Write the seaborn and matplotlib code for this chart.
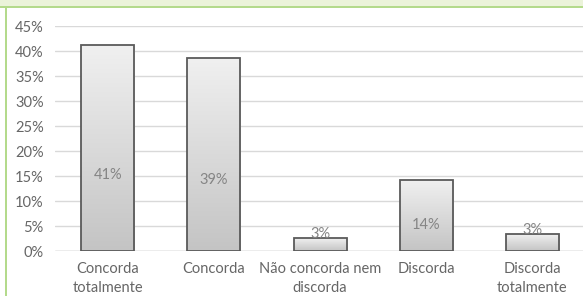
import numpy as np
import pandas as pd
import seaborn as sns
import matplotlib.pyplot as plt
from matplotlib.patches import Rectangle
from matplotlib.colors import LinearSegmentedColormap

# Chart data
categories = ["Concorda\ntotalmente", "Concorda", "Não concorda nem\ndiscorda", "Discorda", "Discorda\ntotalmente"]
values = [41.2, 38.6, 2.6, 14.2, 3.4]
labels = ["41%", "39%", "3%", "14%", "3%"]
yticks = [0, 5, 10, 15, 20, 25, 30, 35, 40, 45]

df = pd.DataFrame({"categoria": categories, "valor": values})

sns.set_theme(style="white")
plt.rcParams["font.family"] = ["Lato", "DejaVu Sans"]

fig = plt.figure(figsize=(5.83, 2.96), dpi=100)
ax = fig.add_axes([0.094, 0.152, 0.91, 0.76])

sns.barplot(data=df, x="categoria", y="valor", width=0.5, color="#d9d9d9",
            edgecolor="#5a5a5a", linewidth=1.3, ax=ax, zorder=3)

# gradient fill inside each bar
grad = np.linspace(0, 1, 256).reshape(-1, 1)
cmap = LinearSegmentedColormap.from_list("g", ["#f0f0f0", "#c4c4c4"])
for p in ax.patches:
    x0, y0 = p.get_x(), p.get_y()
    w, h = p.get_width(), p.get_height()
    p.set_facecolor("none")
    im = ax.imshow(grad, cmap=cmap, extent=[x0, x0 + w, y0, y0 + h],
                   aspect="auto", origin="upper", zorder=2)
    im.set_clip_path(p)

# value labels
for i, (v, t) in enumerate(zip(values, labels)):
    ypos = v * 0.37 if v > 10 else v + 0.9
    ax.text(i, ypos, t, ha="center", va="center", fontsize=10.5, color="#858585", zorder=4)

ax.set_xlim(-0.5, 4.5)
ax.set_ylim(0, 45)
ax.set_yticks(yticks)
ax.set_yticklabels([f"{t}%" for t in yticks])
ax.yaxis.grid(True, color="#d9d9d9", linewidth=1)
ax.set_axisbelow(True)
for s in ax.spines.values():
    s.set_visible(False)
ax.axhline(0, color="#bfbfbf", linewidth=1, zorder=1)
ax.tick_params(axis="both", length=0, labelsize=10.5, labelcolor="#666666")
ax.tick_params(axis="y", pad=8)
ax.tick_params(axis="x", pad=8)
for lab in ax.get_xticklabels():
    lab.set_linespacing(1.45)
ax.set_xlabel("")
ax.set_ylabel("")

# frame decorations: top green band and left green border
fig.patches.append(Rectangle((0, 0.975), 1, 0.025, transform=fig.transFigure,
                             facecolor="#ebf3da", edgecolor="none", zorder=0))
fig.patches.append(Rectangle((0, 0.972), 1, 0.008, transform=fig.transFigure,
                             facecolor="#b4da8c", edgecolor="none", zorder=0))
fig.patches.append(Rectangle((0.008, 0), 0.004, 0.98, transform=fig.transFigure,
                             facecolor="#b4da8c", edgecolor="none", zorder=0))

fig.savefig("out.png", dpi=100)
